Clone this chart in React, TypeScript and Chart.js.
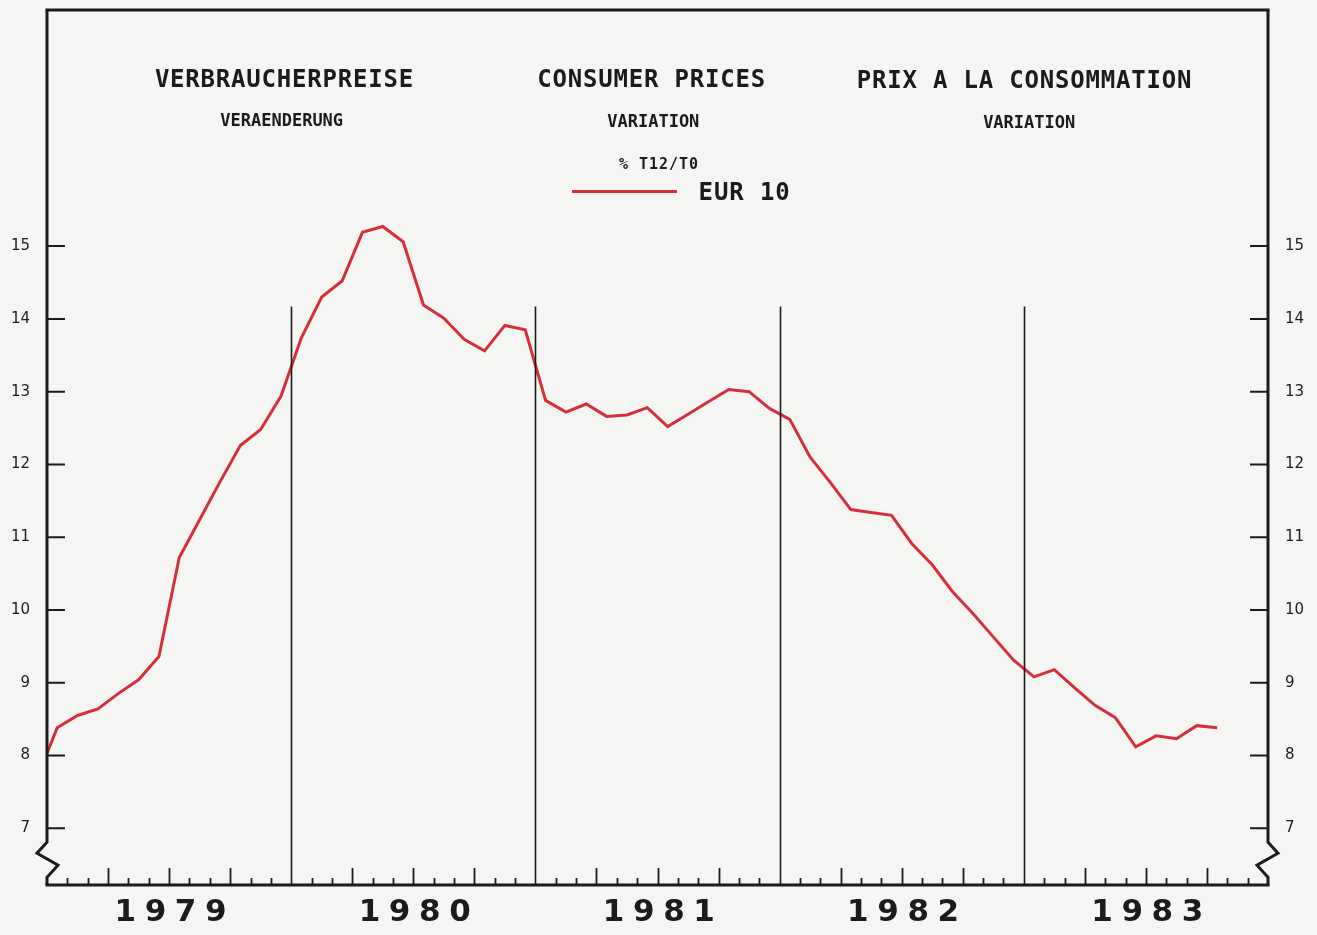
import { useEffect, useRef } from "react";
import { Chart, registerables } from "chart.js";

Chart.register(...registerables);

// ---------- data ----------
const firstYear = 1979;
const months = [
  "1978-12",
  "1979-01", "1979-02", "1979-03", "1979-04", "1979-05", "1979-06",
  "1979-07", "1979-08", "1979-09", "1979-10", "1979-11", "1979-12",
  "1980-01", "1980-02", "1980-03", "1980-04", "1980-05", "1980-06",
  "1980-07", "1980-08", "1980-09", "1980-10", "1980-11", "1980-12",
  "1981-01", "1981-02", "1981-03", "1981-04", "1981-05", "1981-06",
  "1981-07", "1981-08", "1981-09", "1981-10", "1981-11", "1981-12",
  "1982-01", "1982-02", "1982-03", "1982-04", "1982-05", "1982-06",
  "1982-07", "1982-08", "1982-09", "1982-10", "1982-11", "1982-12",
  "1983-01", "1983-02", "1983-03", "1983-04", "1983-05", "1983-06",
  "1983-07", "1983-08", "1983-09", "1983-10",
];
const eur10 = [
  7.68,
  8.38, 8.55, 8.64, 8.85, 9.04, 9.36,
  10.72, 11.24, 11.76, 12.26, 12.48, 12.94,
  13.74, 14.3, 14.52, 15.19, 15.27, 15.06,
  14.19, 14.01, 13.72, 13.56, 13.91, 13.85,
  12.88, 12.72, 12.83, 12.66, 12.68, 12.78,
  12.52, 12.69, 12.86, 13.03, 13.0, 12.77,
  12.62, 12.1, 11.75, 11.38, 11.34, 11.3,
  10.91, 10.62, 10.25, 9.95, 9.63, 9.31,
  9.08, 9.18, 8.93, 8.69, 8.52, 8.12,
  8.27, 8.23, 8.41, 8.38,
];
const yTickValues = [7, 8, 9, 10, 11, 12, 13, 14, 15];
const yearLabels = ["1979", "1980", "1981", "1982", "1983"];
const seriesName = "EUR 10";
const titleTexts = ["VERBRAUCHERPREISE", "CONSUMER PRICES", "PRIX A LA CONSOMMATION"];
const subtitleTexts = ["VERAENDERUNG", "VARIATION", "VARIATION"];
const unitText = "% T12/T0";

// ---------- style ----------
const W = 1317;
const H = 935;
const BG = "#f5f6f4";
const INK = "#1b1b1b";
const RED = "#d62f3c";
const Y_MIN = 6.22;
const Y_MAX = 18.245;
const DIVIDER_TOP = 14.17;
const LABEL_NUDGE = 0.28;

function monthPos(m: string): number {
  const [yy, mm] = m.split("-").map(Number);
  return (yy - firstYear) * 12 + (mm - 1) + 0.5;
}

const framePlugin = {
  id: "frame",
  afterDatasetsDraw(chart: any) {
    const { ctx, chartArea: a, scales } = chart;
    const ys = scales.y;
    const xs = scales.x;
    ctx.save();
    ctx.strokeStyle = INK;
    ctx.lineJoin = "miter";
    ctx.lineCap = "butt";

    // year dividers
    ctx.lineWidth = 1.6;
    const top = ys.getPixelForValue(DIVIDER_TOP);
    for (let i = 1; i < yearLabels.length; i++) {
      const px = Math.round(xs.getPixelForValue(i * 12)) + 0.5;
      ctx.beginPath();
      ctx.moveTo(px, top);
      ctx.lineTo(px, a.bottom);
      ctx.stroke();
    }

    // monthly ticks on bottom axis
    ctx.lineWidth = 1.8;
    for (let m = 1; m < yearLabels.length * 12; m++) {
      if (m % 12 === 0) continue;
      const len = m % 3 === 0 ? 17 : 7;
      const px = Math.round(xs.getPixelForValue(m)) + 0.5;
      ctx.beginPath();
      ctx.moveTo(px, a.bottom);
      ctx.lineTo(px, a.bottom - len);
      ctx.stroke();
    }

    // y ticks inside on both sides
    ctx.lineWidth = 2;
    for (const v of yTickValues) {
      const py = ys.getPixelForValue(v);
      ctx.beginPath();
      ctx.moveTo(a.left, py);
      ctx.lineTo(a.left + 18, py);
      ctx.moveTo(a.right - 18, py);
      ctx.lineTo(a.right, py);
      ctx.stroke();
    }

    // frame
    ctx.lineWidth = 3;
    ctx.lineCap = "square";
    ctx.beginPath();
    ctx.moveTo(a.left, a.top);
    ctx.lineTo(a.right, a.top);
    ctx.moveTo(a.left, a.bottom);
    ctx.lineTo(a.right, a.bottom);
    ctx.stroke();

    const base = ys.getPixelForValue(yTickValues[0]);
    const brk = (x0: number, dir: number) => {
      ctx.beginPath();
      ctx.moveTo(x0, a.top);
      ctx.lineTo(x0, base + 14);
      ctx.lineTo(x0 + dir * 10, base + 25);
      ctx.lineTo(x0 - dir * 11, base + 37);
      ctx.lineTo(x0, base + 49);
      ctx.lineTo(x0, a.bottom);
      ctx.stroke();
    };
    ctx.lineCap = "butt";
    brk(a.left, -1);
    brk(a.right, 1);
    ctx.restore();

    // wide letter spacing for the year labels (drawn next, at z = 1)
    (ctx as any).letterSpacing = "8.6px";
  },
  afterDraw(chart: any) {
    (chart.ctx as any).letterSpacing = "0px";
  },
};

const yAxis = (position: "left" | "right", width: number) => ({
  type: "linear" as const,
  position,
  min: Y_MIN,
  max: Y_MAX,
  grid: { display: false, drawTicks: false },
  border: { display: false },
  afterBuildTicks: (s: any) => {
    s.ticks = yTickValues.map((v) => ({ value: v }));
  },
  afterFit: (s: any) => {
    s.width = width;
    s.paddingTop = 0;
    s.paddingBottom = 0;
  },
  ticks: {
    padding: 17,
    color: INK,
    font: { family: "'DejaVu Sans'", size: 15 },
    callback: (v: any) => String(v),
  },
});

export default function App() {
  const ref = useRef<HTMLCanvasElement | null>(null);

  useEffect(() => {
    if (!ref.current) return;
    const chart = new Chart(ref.current, {
      type: "line",
      data: {
        datasets: [
          {
            label: seriesName,
            data: months.map((m, i) => ({ x: monthPos(m), y: eur10[i] })),
            borderColor: RED,
            backgroundColor: RED,
            borderWidth: 3,
            pointRadius: 0,
            tension: 0,
            fill: false,
          },
        ],
      },
      options: {
        animation: false,
        responsive: false,
        layout: { padding: { top: 10, left: 0, right: 0, bottom: 0 } },
        plugins: { legend: { display: false }, tooltip: { enabled: false } },
        scales: {
          x: {
            type: "linear",
            position: "bottom",
            min: 0,
            max: yearLabels.length * 12,
            grid: { display: false, drawTicks: false },
            border: { display: false },
            afterBuildTicks: (s: any) => {
              s.ticks = yearLabels.map((_, i) => ({ value: i * 12 + 6 + LABEL_NUDGE }));
            },
            afterFit: (s: any) => {
              s.height = 50;
              s.paddingLeft = 0;
              s.paddingRight = 0;
            },
            ticks: {
              z: 1,
              padding: 9,
              autoSkip: false,
              maxRotation: 0,
              color: INK,
              font: { family: "'DejaVu Sans'", size: 31, weight: "bold" },
              callback: (_v: any, i: number) => yearLabels[i],
            },
          },
          y: yAxis("left", 47),
          y2: yAxis("right", 49),
        },
      },
      plugins: [framePlugin],
    } as any);
    return () => chart.destroy();
  }, []);

  const mono = "'DejaVu Sans Mono', monospace";
  const txt = (size: number, spacing: number): React.CSSProperties => ({
    position: "absolute",
    fontFamily: mono,
    fontWeight: "bold",
    fontSize: size,
    lineHeight: `${size}px`,
    letterSpacing: spacing,
    color: INK,
    whiteSpace: "nowrap",
    transform: "translateX(-50%)",
  });
  const titlePos = [
    { left: 284.5, top: 67.2 },
    { left: 651.7, top: 67.2 },
    { left: 1024.5, top: 67.9 },
  ];
  const subPos = [
    { left: 281.7, top: 112.3 },
    { left: 653.3, top: 113 },
    { left: 1029.2, top: 113.7 },
  ];

  return (
    <div
      style={{
        position: "absolute",
        left: 0,
        top: 0,
        width: W,
        height: H,
        background: BG,
        overflow: "hidden",
      }}
    >
      <canvas ref={ref} width={W} height={H} style={{ position: "absolute", left: 0, top: 0 }} />
      {titleTexts.map((t, i) => (
        <div key={"t" + i} style={{ ...txt(24, 0.8), ...titlePos[i] }}>
          {t}
        </div>
      ))}
      {subtitleTexts.map((t, i) => (
        <div key={"s" + i} style={{ ...txt(17, 0), ...subPos[i] }}>
          {t}
        </div>
      ))}
      <div style={{ ...txt(15, 1), left: 659, top: 156.5 }}>{unitText}</div>
      <div
        style={{
          position: "absolute",
          left: 572,
          top: 189.5,
          width: 105,
          height: 3,
          background: RED,
        }}
      />
      <div style={{ ...txt(24, 0.9), transform: "none", left: 698.6, top: 179.9 }}>{seriesName}</div>
    </div>
  );
}
